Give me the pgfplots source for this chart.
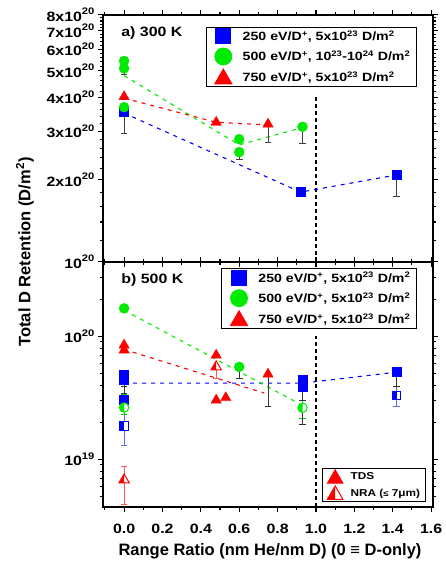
\documentclass[border=0pt]{standalone}
\usepackage{fontspec}
\setmainfont{Liberation Sans}
\newfontfamily\wide{Liberation Sans}[FakeStretch=1.18]
\usepackage{pgfplots}
\pgfplotsset{compat=1.18}
\definecolor{pblue}{RGB}{0,0,255}
\definecolor{pgreen}{RGB}{0,235,0}
\definecolor{pred}{RGB}{255,0,0}

\pgfdeclareplotmark{halfsquare}{%
 \begin{pgfscope}\pgfsetfillcolor{white}%
 \pgfpathrectangle{\pgfqpoint{-\pgfplotmarksize}{-\pgfplotmarksize}}{\pgfqpoint{2\pgfplotmarksize}{2\pgfplotmarksize}}%
 \pgfusepathqfill\end{pgfscope}%
 \pgfpathrectangle{\pgfqpoint{-\pgfplotmarksize}{-\pgfplotmarksize}}{\pgfqpoint{\pgfplotmarksize}{2\pgfplotmarksize}}%
 \pgfusepathqfill
 \pgfpathrectangle{\pgfqpoint{-\pgfplotmarksize}{-\pgfplotmarksize}}{\pgfqpoint{2\pgfplotmarksize}{2\pgfplotmarksize}}%
 \pgfusepathqstroke}
\pgfdeclareplotmark{halfcircle}{%
 \begin{pgfscope}\pgfsetfillcolor{white}%
 \pgfpathcircle{\pgfpointorigin}{\pgfplotmarksize}\pgfusepathqfill\end{pgfscope}%
 \pgfpathmoveto{\pgfqpoint{0pt}{\pgfplotmarksize}}%
 \pgfpatharc{90}{270}{\pgfplotmarksize}\pgfpathclose\pgfusepathqfill
 \pgfpathcircle{\pgfpointorigin}{\pgfplotmarksize}\pgfusepathqstroke}
\pgfdeclareplotmark{halftriangle}{%
 \begin{pgfscope}\pgfsetfillcolor{white}%
 \pgfpathmoveto{\pgfqpoint{0pt}{\pgfplotmarksize}}%
 \pgfpathlineto{\pgfqpoint{-.866\pgfplotmarksize}{-.5\pgfplotmarksize}}%
 \pgfpathlineto{\pgfqpoint{.866\pgfplotmarksize}{-.5\pgfplotmarksize}}%
 \pgfpathclose\pgfusepathqfill\end{pgfscope}%
 \pgfpathmoveto{\pgfqpoint{0pt}{\pgfplotmarksize}}%
 \pgfpathlineto{\pgfqpoint{-.866\pgfplotmarksize}{-.5\pgfplotmarksize}}%
 \pgfpathlineto{\pgfqpoint{0pt}{-.5\pgfplotmarksize}}%
 \pgfpathclose\pgfusepathqfill
 \pgfpathmoveto{\pgfqpoint{0pt}{\pgfplotmarksize}}%
 \pgfpathlineto{\pgfqpoint{-.866\pgfplotmarksize}{-.5\pgfplotmarksize}}%
 \pgfpathlineto{\pgfqpoint{.866\pgfplotmarksize}{-.5\pgfplotmarksize}}%
 \pgfpathclose\pgfusepathqstroke}

\newcommand{\sps}[1]{\textsuperscript{#1}}
\newcommand{\tsp}[1]{\raisebox{6.5pt}{\fontsize{9.5}{10}\selectfont #1}}

\pgfplotsset{
 mypanel/.style={
  scale only axis, width=330pt, xmin=-0.11, xmax=1.61,
  tick align=outside, axis line style={line width=1.4pt},
  major tick length=5pt, minor tick length=3pt,
  every tick/.append style={black, line width=1.1pt},
  xtick={0,0.2,0.4,0.6,0.8,1.0,1.2,1.4,1.6},
  minor xtick={-0.1,0.1,0.3,0.5,0.7,0.9,1.1,1.3,1.5},
  tick label style={font=\wide\bfseries\fontsize{13.5}{15}\selectfont},
  xticklabel style={yshift=-8.5pt},
  legend cell align=left,
  legend style={draw=black, line width=0.8pt, fill=white,
    font=\wide\bfseries\fontsize{12}{13}\selectfont, inner xsep=4pt, inner ysep=1.5pt, row sep=4pt},
 },
 dline/.style={line width=1.1pt, dash pattern=on 4pt off 5pt, forget plot},
 fsq/.style={only marks, mark=square*, mark size=4.5pt, mark options={draw=pblue, fill=pblue}, forget plot},
 fci/.style={only marks, mark=*, mark size=5pt, mark options={draw=pgreen, fill=pgreen}, forget plot},
 ftr/.style={only marks, mark=triangle*, mark size=6pt, mark options={draw=pred, fill=pred}, forget plot},
 hsq/.style={only marks, mark=halfsquare, mark size=4.2pt, mark options={draw=pblue, fill=pblue, line width=1pt}, forget plot},
 hci/.style={only marks, mark=halfcircle, mark size=4.7pt, mark options={draw=pgreen, fill=pgreen, line width=1pt}, forget plot},
 htr/.style={only marks, mark=halftriangle, mark size=6pt, mark options={draw=pred, fill=pred, line width=1pt}, forget plot},
 vdash/.style={black, line width=1.1pt, dash pattern=on 4pt off 3pt, forget plot},
}

\begin{document}
\begin{tikzpicture}
% ---------------- top panel (300 K) ----------------
\begin{axis}[mypanel, ymode=log, at={(103pt,-15pt)}, anchor=north west, height=247pt,
  ymin=1e20, ymax=8e20,
  ytick={1e20,2e20,3e20,4e20,5e20,6e20,7e20,8e20},
  yticklabels={10\tsp{20},2x10\tsp{20},3x10\tsp{20},4x10\tsp{20},5x10\tsp{20},6x10\tsp{20},7x10\tsp{20},8x10\tsp{20}},
  minor ytick={1.2e20,1.4e20,1.6e20,1.8e20,2.2e20,2.4e20,2.6e20,2.8e20,3.2e20,3.4e20,3.6e20,3.8e20,4.2e20,4.4e20,4.6e20,4.8e20,5.2e20,5.4e20,5.6e20,5.8e20,6.2e20,6.4e20,6.6e20,6.8e20,7.2e20,7.4e20,7.6e20,7.8e20},
  xticklabels={},
  legend style={at={(0.9506,0.9526)}, anchor=north east},
]
\addlegendimage{legend image code/.code={\path (0pt,0pt) (30pt,0pt); \draw[only marks, mark=square*, mark size=7.5pt, draw=pblue, fill=pblue] plot coordinates {(13pt,0pt)};}}
\addlegendentry{250 eV/D\sps{+}, 5x10\sps{23} D/m\sps{2}}
\addlegendimage{legend image code/.code={\path (0pt,0pt) (30pt,0pt); \draw[only marks, mark=*, mark size=8.5pt, draw=pgreen, fill=pgreen] plot coordinates {(13pt,0pt)};}}
\addlegendentry{500 eV/D\sps{+}, 10\sps{23}-10\sps{24} D/m\sps{2}}
\addlegendimage{legend image code/.code={\path (0pt,0pt) (30pt,0pt); \draw[only marks, mark=triangle*, mark size=10pt, draw=pred, fill=pred] plot coordinates {(13pt,-1.5pt)};}}
\addlegendentry{750 eV/D\sps{+}, 5x10\sps{23} D/m\sps{2}}

\addplot[vdash] coordinates {(1,1e20) (1,4.05e20)};
\addplot[dline, pblue] coordinates {(0,3.5e20) (0.92,1.8e20) (1.42,2.08e20)};
\addplot[dline, pgreen] coordinates {(0,4.8e20) (0.6,2.68e20) (0.93,3.1e20)};
\addplot[dline, pred] coordinates {(0,3.97e20) (0.48,3.24e20) (0.75,3.17e20)};

\addplot[fsq] coordinates {(0,3.54e20) (0.92,1.80e20) (1.42,2.08e20)};
\addplot[fci] coordinates {(0,5.43e20) (0,5.1e20) (0,3.68e20) (0.6,2.81e20) (0.6,2.52e20) (0.93,3.12e20)};
\addplot[ftr] coordinates {(0,4.02e20) (0.48,3.24e20) (0.75,3.19e20)};

\addplot[only marks, mark=*, mark size=0pt, mark options={draw=none, fill=none}, forget plot,
   error bars/.cd, y dir=both, y explicit,
   error bar style={black!75, line width=1pt},
   error mark options={rotate=90, black!75, line width=1pt, mark size=3.3pt}] coordinates {
 (0,3.55e20) += (0,0) -= (0,0.60e20)
 (0.92,1.80e20) += (0,0) -= (0,0.07e20)
 (1.42,2.08e20) += (0,0) -= (0,0.34e20)
 (0,5.10e20) += (0,0.22e20) -= (0,0.27e20)
 (0,3.68e20) += (0,0) -= (0,0.03e20)
 (0.6,2.52e20) += (0,0.08e20) -= (0,0.16e20)
 (0.93,3.12e20) += (0,0) -= (0,0.40e20)
 (0,4.0e20) += (0,0) -= (0,0.07e20)
 (0.48,3.24e20) += (0,0) -= (0,0.04e20)
 (0.75,3.19e20) += (0,0) -= (0,0.46e20)
};
\node[anchor=west, font=\wide\bfseries\fontsize{13.5}{15}\selectfont] at (rel axis cs:0.045,0.927) {a) 300 K};
\end{axis}

% ---------------- bottom panel (500 K) ----------------
\begin{axis}[mypanel, ymode=log, at={(103pt,-262pt)}, anchor=north west, height=245pt,
  ymin=4.1e18, ymax=4e20,
  ytick={1e19,1e20}, yticklabels={10\tsp{19},10\tsp{20}},
  minor ytick={5e18,6e18,7e18,8e18,9e18,2e19,3e19,4e19,5e19,6e19,7e19,8e19,9e19,2e20,3e20},
  xticklabels={0.0,0.2,0.4,0.6,0.8,1.0,1.2,1.4,1.6},
  legend style={at={(0.9506,0.974)}, anchor=north east},
]
\addlegendimage{legend image code/.code={\path (0pt,0pt) (30pt,0pt); \draw[only marks, mark=square*, mark size=7.5pt, draw=pblue, fill=pblue] plot coordinates {(13pt,0pt)};}}
\addlegendentry{250 eV/D\sps{+}, 5x10\sps{23} D/m\sps{2}}
\addlegendimage{legend image code/.code={\path (0pt,0pt) (30pt,0pt); \draw[only marks, mark=*, mark size=8.5pt, draw=pgreen, fill=pgreen] plot coordinates {(13pt,0pt)};}}
\addlegendentry{500 eV/D\sps{+}, 5x10\sps{23} D/m\sps{2}}
\addlegendimage{legend image code/.code={\path (0pt,0pt) (30pt,0pt); \draw[only marks, mark=triangle*, mark size=10pt, draw=pred, fill=pred] plot coordinates {(13pt,-1.5pt)};}}
\addlegendentry{750 eV/D\sps{+}, 5x10\sps{23} D/m\sps{2}}

\addplot[vdash] coordinates {(1,4.1e18) (1,1.0e20)};
\addplot[dline, pblue] coordinates {(0,4.15e19) (0.93,4.15e19) (1.42,5.1e19)};
\addplot[dline, pgreen] coordinates {(0,1.62e20) (0.9,2.9e19)};
\addplot[dline, pred] coordinates {(0,7.8e19) (0.73,3.45e19)};

\addplot[fsq] coordinates {(0,4.82e19) (0,4.45e19) (0,3.02e19) (0.93,4.4e19) (0.93,3.88e19) (1.42,5.13e19)};
\addplot[hsq] coordinates {(0,1.86e19) (1.42,3.31e19)};
\addplot[fci] coordinates {(0,1.68e20) (0.6,5.63e19)};
\addplot[hci] coordinates {(0,2.63e19) (0.93,2.62e19)};
\addplot[ftr] coordinates {(0,8.45e19) (0,7.7e19) (0.48,7.0e19) (0.48,3.02e19) (0.53,3.16e19) (0.75,4.91e19)};
\addplot[htr] coordinates {(0.48,5.63e19) (0,6.8e18)};

\addplot[only marks, mark=*, mark size=0pt, mark options={draw=none, fill=none}, forget plot,
   error bars/.cd, y dir=both, y explicit,
   error bar style={pblue!60, line width=1pt},
   error mark options={rotate=90, pblue!60, line width=1pt, mark size=3.3pt}] coordinates {
 (0,1.86e19) += (0,0.88e19) -= (0,0.56e19)
 (1.42,3.31e19) += (0,0.57e19) -= (0,0.61e19)
};
\addplot[only marks, mark=*, mark size=0pt, mark options={draw=none, fill=none}, forget plot,
   error bars/.cd, y dir=both, y explicit,
   error bar style={pgreen!90!black, line width=1pt},
   error mark options={rotate=90, pgreen!90!black, line width=1pt, mark size=3.3pt}] coordinates {
 (0,2.63e19) += (0,0.75e19) -= (0,0.33e19)
 (0.93,2.62e19) += (0,0.40e19) -= (0,0.47e19)
};
\addplot[only marks, mark=*, mark size=0pt, mark options={draw=none, fill=none}, forget plot,
   error bars/.cd, y dir=both, y explicit,
   error bar style={pred!65, line width=1pt},
   error mark options={rotate=90, pred!65, line width=1pt, mark size=3.3pt}] coordinates {
 (0,6.8e18) += (0,2.0e18) -= (0,2.54e18)
 (0.48,5.63e19) += (0,0) -= (0,1.1e19)
};
\addplot[only marks, mark=*, mark size=0pt, mark options={draw=none, fill=none}, forget plot,
   error bars/.cd, y dir=both, y explicit,
   error bar style={black!80, line width=1pt},
   error mark options={rotate=90, black!80, line width=1pt, mark size=3.3pt}] coordinates {
 (0,1.68e20) += (0,0) -= (0,0.04e20)
 (0,8.45e19) += (0,0) -= (0,1.0e19)
 (0,7.7e19) += (0,0) -= (0,0.25e19)
 (0,4.82e19) += (0,0) -= (0,0.94e19)
 (0,4.45e19) += (0,0) -= (0,1.03e19)
 (0.6,5.63e19) += (0,0) -= (0,1.1e19)
 (0.75,4.91e19) += (0,0) -= (0,2.21e19)
 (0.93,4.25e19) += (0,0) -= (0,1.23e19)
 (0.93,2.62e19) += (0,0) -= (0,0.72e19)
 (1.42,5.13e19) += (0,0) -= (0,1.25e19)
 (0.48,3.02e19) += (0,0) -= (0,0.07e19)
 (0.53,3.16e19) += (0,0) -= (0,0.07e19)
};
\node[anchor=west, font=\wide\bfseries\fontsize{13.5}{15}\selectfont] at (rel axis cs:0.045,0.9265) {b) 500 K};
\end{axis}

% ---------------- TDS / NRA legend ----------------
\begin{axis}[hide axis, scale only axis, width=330pt, height=245pt,
  at={(103pt,-262pt)}, anchor=north west, xmin=0, xmax=1, ymin=0, ymax=1,
  legend cell align=left,
  legend style={at={(0.977,0.0216)}, anchor=south east, draw=black, line width=0.8pt, fill=white,
    font=\wide\bfseries\fontsize{10}{11}\selectfont, inner xsep=3pt, inner ysep=1.5pt, row sep=2.5pt},
]
\addlegendimage{legend image code/.code={\path (0pt,0pt) (22pt,0pt); \draw[only marks, mark=triangle*, mark size=9pt, draw=pred, fill=pred] plot coordinates {(9pt,-1.5pt)};}}
\addlegendentry{TDS}
\addlegendimage{legend image code/.code={\path (0pt,0pt) (22pt,0pt); \draw[only marks, mark=halftriangle, mark size=9pt, draw=pred, fill=pred, line width=1pt] plot coordinates {(9pt,-1.5pt)};}}
\addlegendentry{NRA ({\fontsize{8}{9}\selectfont ≤} 7μm)}
\end{axis}

\node[rotate=90, font=\bfseries\fontsize{16.5}{18}\selectfont] at (25pt,-252pt) {Total D Retention (D/m\sps{2})};
\node[font=\bfseries\fontsize{16.5}{18}\selectfont] at (270pt,-551.5pt) {Range Ratio (nm He/nm D) (0 ≡ D-only)};
\pgfresetboundingbox
\path[use as bounding box] (0pt,0pt) rectangle (446pt,-565pt);
\end{tikzpicture}
\end{document}
